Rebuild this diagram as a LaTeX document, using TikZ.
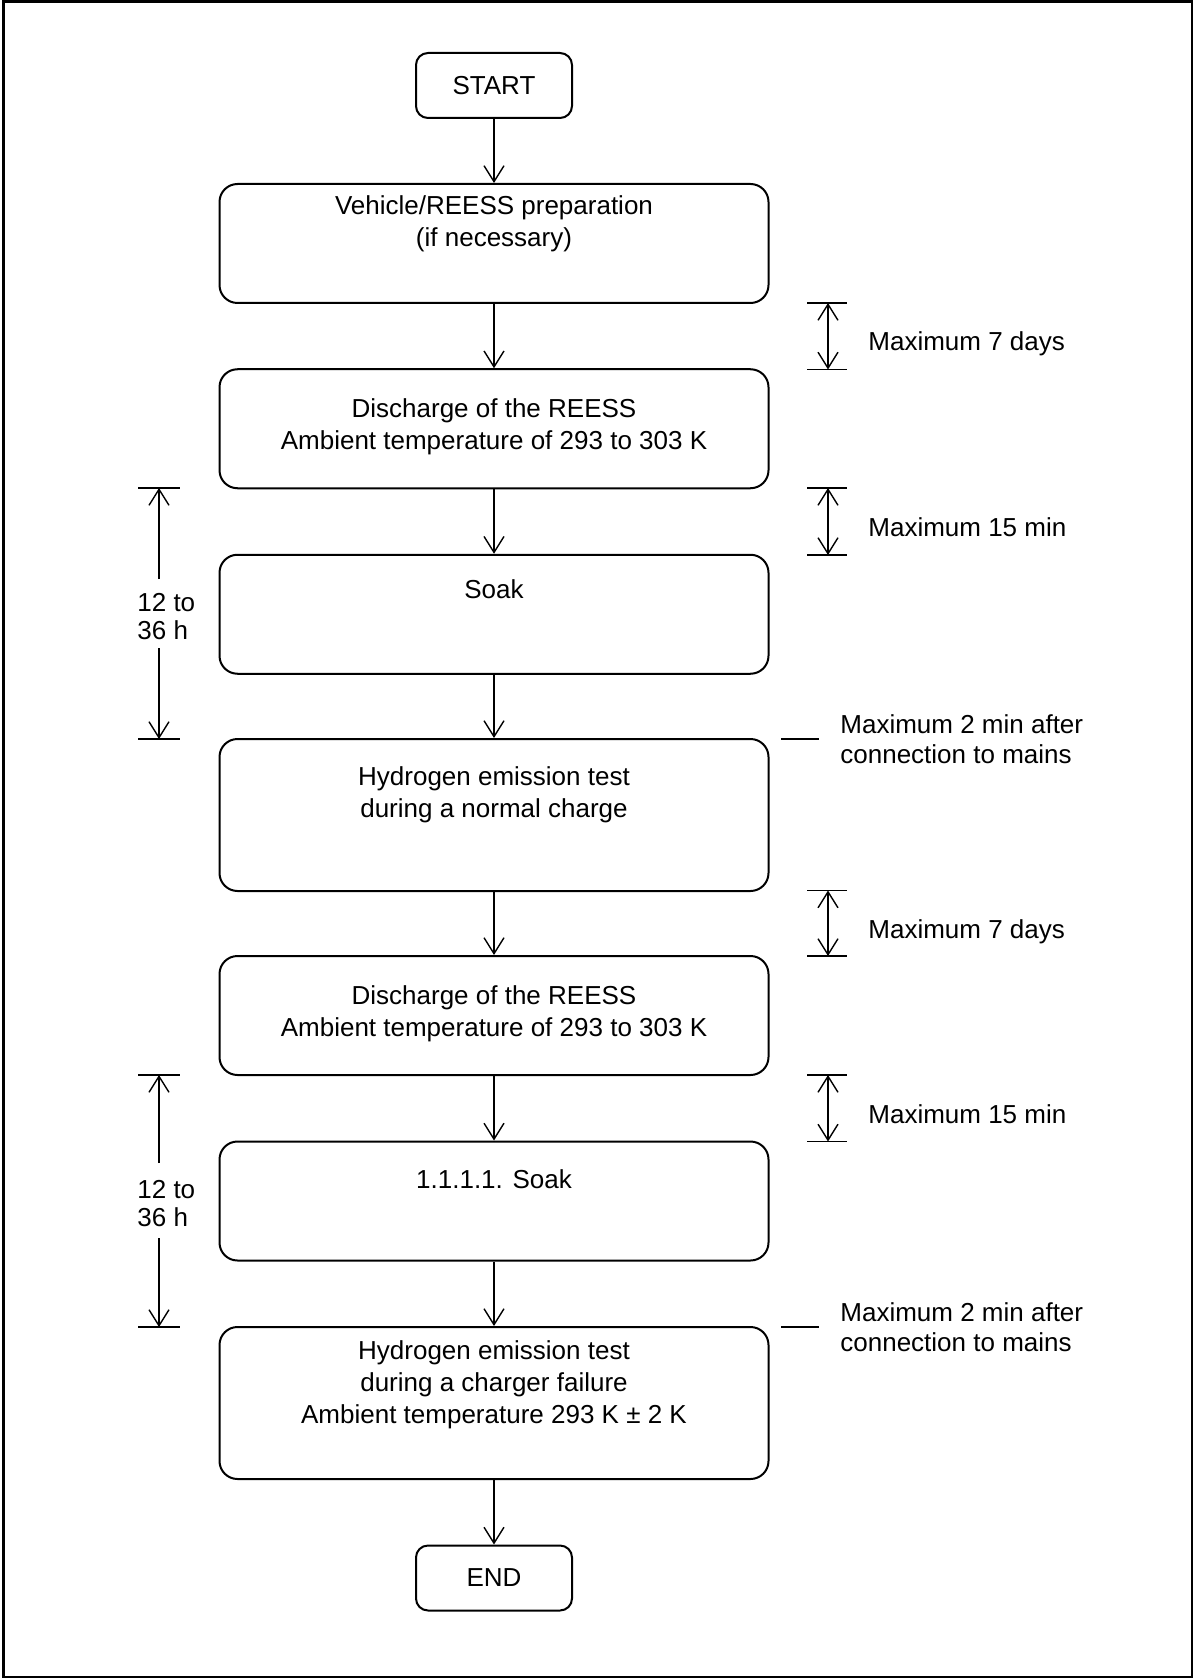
\documentclass[tikz,border=0pt]{standalone}
\usepackage{fontspec}
\setmainfont{Liberation Sans}
\usetikzlibrary{arrows.meta}
\begin{document}
\begin{tikzpicture}[x=0.5pt,y=-0.5pt,
 box/.style={draw, line width=1pt, rounded corners=9pt, minimum width=274.5pt, inner sep=0pt},
 smallbox/.style={box, minimum height=59.5pt},
 bigbox/.style={box, minimum height=76pt},
 term/.style={draw, line width=1pt, rounded corners=6pt, minimum width=78pt, minimum height=32.5pt, inner sep=0pt, font=\fontsize{13}{16}\selectfont},
 txt/.style={inner sep=0pt, align=center, anchor=base, font=\fontsize{13}{16}\selectfont},
 note/.style={inner sep=0pt, align=left, anchor=base west, font=\fontsize{13}{15}\selectfont},
 lnote/.style={inner sep=0pt, align=left, anchor=base west, font=\fontsize{13}{14}\selectfont},
 arr/.style={line width=0.7pt, -{Straight Barb[length=8pt,width=10pt]}},
 dimarr/.style={line width=0.7pt, -{Straight Barb[length=8pt,width=10pt]}},
 dimboth/.style={line width=0.7pt, {Straight Barb[length=8pt,width=10pt]}-{Straight Barb[length=8pt,width=10pt]}},
 tick/.style={line width=0.8pt}]
\useasboundingbox (0,0) rectangle (1194,1679);
\draw[line width=1.3pt] (3.5,1.5) rectangle (1192,1677);

% main boxes
\node[term] (start) at (494,85.5) {START};
\node[smallbox] (b1) at (494,243.5) {};
\node[smallbox] (b2) at (494,428.75) {};
\node[smallbox] (b3) at (494,614.25) {};
\node[bigbox] (b4) at (494,815) {};
\node[smallbox] (b5) at (494,1015.5) {};
\node[smallbox] (b6) at (494,1201) {};
\node[bigbox] (b7) at (494,1403) {};
\node[term] (end) at (494,1578) {END};

% box texts (anchor = baseline of last line)
\node[txt] (t1) at (494,247) {Vehicle/REESS preparation\\(if necessary)};
\node[txt] (t2) at (494,450) {Discharge of the REESS\\Ambient temperature of 293 to 303 K};
\node[txt] (t3) at (494,598) {Soak};
\node[txt] (t4) at (494,817.5) {Hydrogen emission test\\during a normal charge};
\node[txt] (t5) at (494,1036) {Discharge of the REESS\\Ambient temperature of 293 to 303 K};
\node[txt] (t6) at (494,1188) {1.1.1.1. Soak};
\node[txt] (t7) at (494,1423) {Hydrogen emission test\\during a charger failure\\Ambient temperature 293 K ± 2 K};

% flow arrows
\draw[arr] (start.south) -- (b1.north);
\draw[arr] (b1.south) -- (b2.north);
\draw[arr] (b2.south) -- (b3.north);
\draw[arr] (b3.south) -- (b4.north);
\draw[arr] (b4.south) -- (b5.north);
\draw[arr] (b5.south) -- (b6.north);
\draw[arr] (b6.south) -- (b7.north);
\draw[arr] (b7.south) -- (end.north);

% right dimensions
\coordinate (r1a) at (828,303);
\coordinate (r1b) at (828,369.5);
\coordinate (r2a) at (828,488);
\coordinate (r2b) at (828,555);
\coordinate (r3a) at (828,890.5);
\coordinate (r3b) at (828,956);
\coordinate (r4a) at (828,1075);
\coordinate (r4b) at (828,1141.5);
\foreach \c in {r1a,r1b,r2a,r2b,r3a,r3b,r4a,r4b}
  \draw[tick] ([xshift=-10.5pt]\c) -- ([xshift=9.5pt]\c);
\draw[dimboth] (r1a) -- (r1b);
\draw[dimboth] (r2a) -- (r2b);
\draw[dimboth] (r3a) -- (r3b);
\draw[dimboth] (r4a) -- (r4b);
\node[note] (m1) at (868,351) {Maximum 7 days};
\node[note] (m2) at (868,536) {Maximum 15 min};
\node[note] (m3) at (868,938) {Maximum 7 days};
\node[note] (m4) at (868,1123) {Maximum 15 min};

% connection notes
\coordinate (c1a) at (781,739);
\coordinate (c1b) at (819,739);
\coordinate (c2a) at (781,1327);
\coordinate (c2b) at (819,1327);
\draw[tick] (c1a) -- (c1b);
\draw[tick] (c2a) -- (c2b);
\node[note] (n1) at (840,763) {Maximum 2 min after\\connection to mains};
\node[note] (n2) at (840,1351) {Maximum 2 min after\\connection to mains};

% left dimensions
\coordinate (l1a) at (159,488);
\coordinate (l1g) at (159,579);
\coordinate (l1h) at (159,648);
\coordinate (l1b) at (159,739);
\coordinate (l2a) at (159,1075);
\coordinate (l2g) at (159,1163);
\coordinate (l2h) at (159,1238);
\coordinate (l2b) at (159,1327);
\foreach \c in {l1a,l1b,l2a,l2b}
  \draw[tick] ([xshift=-10.5pt]\c) -- ([xshift=10.5pt]\c);
\draw[dimarr] (l1g) -- (l1a);
\draw[dimarr] (l1h) -- (l1b);
\draw[dimarr] (l2g) -- (l2a);
\draw[dimarr] (l2h) -- (l2b);
\node[lnote] (h1) at (137,639) {12 to\\36 h};
\node[lnote] (h2) at (137,1226) {12 to\\36 h};
\end{tikzpicture}
\end{document}
